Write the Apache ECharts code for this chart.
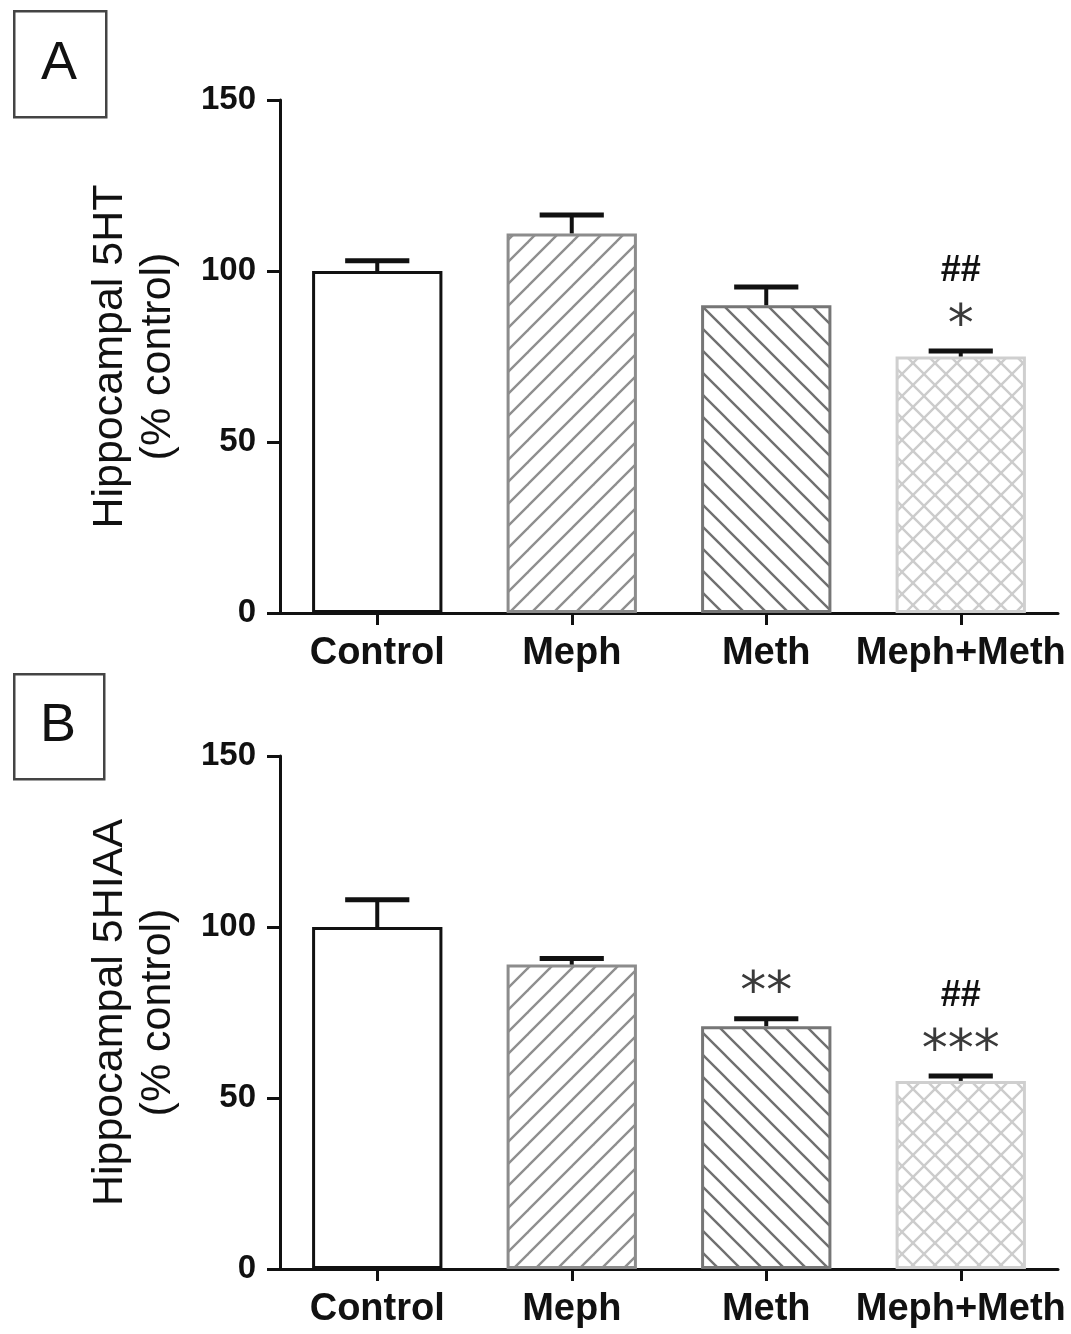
<!DOCTYPE html>
<html>
<head>
<meta charset="utf-8">
<script src="https://cdn.jsdelivr.net/npm/echarts@6/dist/echarts.min.js"></script>
<style>
html,body{margin:0;padding:0;background:#fff;}
#chart{width:1071px;height:1334px;}
</style>
</head>
<body>
<div id="chart"></div>
<script>
// ---- data ----
const categories = ['Control', 'Meph', 'Meth', 'Meph+Meth'];
const yTicks = [0, 50, 100, 150];
const meanA = [100, 111, 90, 75];
const semA = [3, 5.4, 5.3, 1.6];
const meanB = [100, 89, 71, 55];
const semB = [8, 1.8, 2.2, 1.4];
const annotA = [[], [], [], ['*', '##']];
const annotB = [[], [], ['**'], ['***', '##']];
const titleA = 'Hippocampal 5HT\n(% control)';
const titleB = 'Hippocampal 5HIAA\n(% control)';
const panelLabels = ['A', 'B'];

// ---- patterns ----
function hatch(dirs, color, size, lw) {
  const c = document.createElement('canvas');
  c.width = size; c.height = size;
  const ctx = c.getContext('2d');
  ctx.fillStyle = '#fff';
  ctx.fillRect(0, 0, size, size);
  ctx.strokeStyle = color;
  ctx.lineWidth = lw;
  ctx.lineCap = 'square';
  dirs.forEach(d => {
    for (let k = -1; k <= 1; k++) {
      ctx.beginPath();
      if (d === '/') {
        ctx.moveTo(k * size, size);
        ctx.lineTo(k * size + size, 0);
      } else {
        ctx.moveTo(k * size, 0);
        ctx.lineTo(k * size + size, size);
      }
      ctx.stroke();
    }
  });
  return { image: c, repeat: 'repeat' };
}
const fills = [
  '#ffffff',
  hatch(['/'], '#8f8f8f', 22, 2.4),
  hatch(['\\'], '#707070', 22, 2.4),
  hatch(['/', '\\'], '#cccccc', 22, 2.4)
];
const borders = ['#111111', '#8c8c8c', '#767676', '#cfcfcf'];

const FONT = 'Liberation Sans, Arial, sans-serif';

function barData(means) {
  return means.map((v, i) => ({
    value: v,
    itemStyle: { color: fills[i], borderColor: borders[i], borderWidth: 3 }
  }));
}
function errData(means, sems) {
  return means.map((v, i) => [i, v, sems[i]]);
}
function errRender(params, api) {
  const x = api.value(0), m = api.value(1), e = api.value(2);
  const p0 = api.coord([x, m]);
  const p1 = api.coord([x, m + e]);
  const w = api.size([1, 0])[0] * 0.33;
  return {
    type: 'group',
    children: [
      { type: 'line', shape: { x1: p0[0], y1: p0[1], x2: p1[0], y2: p1[1] }, style: { stroke: '#111', lineWidth: 4 } },
      { type: 'line', shape: { x1: p1[0] - w / 2, y1: p1[1], x2: p1[0] + w / 2, y2: p1[1] }, style: { stroke: '#111', lineWidth: 5 } }
    ]
  };
}
function annotRender(annots) {
  return function (params, api) {
    const x = api.value(0), m = api.value(1), e = api.value(2);
    const p1 = api.coord([x, m + e]);
    const lines = annots[params.dataIndex];
    const children = lines.map((t, k) => {
      const isStar = t.indexOf('*') >= 0;
      const y = p1[1] - 34 - k * 46;
      return {
        type: 'text',
        x: p1[0], y: isStar ? y + 10 : y,
        style: {
          text: t,
          align: 'center', verticalAlign: 'middle',
          font: isStar ? 'normal 52px "DejaVu Sans", sans-serif' : 'bold 36px ' + FONT,
          fill: isStar ? '#3a3a3a' : '#111'
        }
      };
    });
    return { type: 'group', children: children };
  };
}

function xAxisCfg(gi) {
  return {
    type: 'category', gridIndex: gi, data: categories,
    axisLine: { show: true, lineStyle: { color: '#111', width: 3 } },
    axisTick: { show: true, alignWithLabel: true, length: 12, lineStyle: { color: '#111', width: 3 } },
    axisLabel: { interval: 0, color: '#111', fontFamily: FONT, fontWeight: 'bold', fontSize: 38, margin: 22 },
    splitLine: { show: false }
  };
}
function yAxisCfg(gi, name) {
  return {
    type: 'value', gridIndex: gi, min: yTicks[0], max: yTicks[yTicks.length - 1], interval: 50,
    name: name, nameLocation: 'middle', nameRotate: 90, nameGap: 98,
    nameTextStyle: { color: '#111', fontFamily: FONT, fontSize: 43, lineHeight: 48 },
    axisLine: { show: true, lineStyle: { color: '#111', width: 3 } },
    axisTick: { show: true, length: 13, lineStyle: { color: '#111', width: 3 } },
    axisLabel: { color: '#111', fontFamily: FONT, fontWeight: 'bold', fontSize: 33, margin: 24 },
    splitLine: { show: false }
  };
}

const chart = echarts.init(document.getElementById('chart'), null, { renderer: 'canvas' });
const option = {
  animation: false,
  backgroundColor: '#fff',
  grid: [
    { left: 280, right: 13, top: 100, bottom: 1334 - 613 },
    { left: 280, right: 13, top: 756, bottom: 1334 - 1269 }
  ],
  xAxis: [xAxisCfg(0), xAxisCfg(1)],
  yAxis: [yAxisCfg(0, titleA), yAxisCfg(1, titleB)],
  graphic: [
    { type: 'rect', left: 13, top: 10, shape: { width: 92, height: 106 }, style: { fill: '#fff', stroke: '#444', lineWidth: 2.5 } },
    { type: 'text', x: 59, y: 64, style: { text: panelLabels[0], font: 'normal 54px ' + FONT, fill: '#111', align: 'center', verticalAlign: 'middle' } },
    { type: 'rect', left: 13, top: 673, shape: { width: 90, height: 105 }, style: { fill: '#fff', stroke: '#444', lineWidth: 2.5 } },
    { type: 'text', x: 58, y: 726, style: { text: panelLabels[1], font: 'normal 54px ' + FONT, fill: '#111', align: 'center', verticalAlign: 'middle' } }
  ],
  series: [
    { type: 'bar', xAxisIndex: 0, yAxisIndex: 0, barWidth: '67%', data: barData(meanA), z: 2 },
    { type: 'custom', xAxisIndex: 0, yAxisIndex: 0, renderItem: errRender, data: errData(meanA, semA), z: 3 },
    { type: 'custom', xAxisIndex: 0, yAxisIndex: 0, renderItem: annotRender(annotA), data: errData(meanA, semA), z: 4 },
    { type: 'bar', xAxisIndex: 1, yAxisIndex: 1, barWidth: '67%', data: barData(meanB), z: 2 },
    { type: 'custom', xAxisIndex: 1, yAxisIndex: 1, renderItem: errRender, data: errData(meanB, semB), z: 3 },
    { type: 'custom', xAxisIndex: 1, yAxisIndex: 1, renderItem: annotRender(annotB), data: errData(meanB, semB), z: 4 }
  ]
};
chart.setOption(option);
</script>
</body>
</html>
